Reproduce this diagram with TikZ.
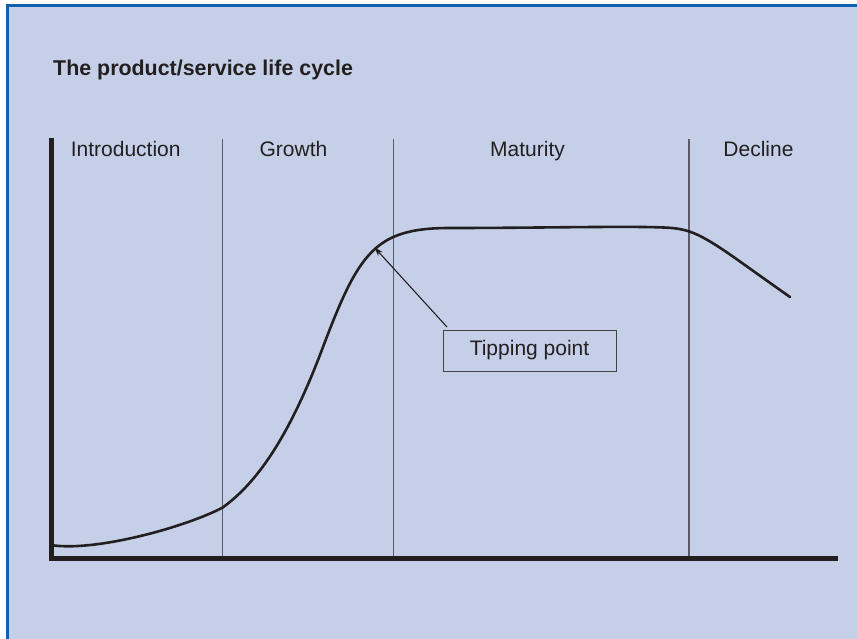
\documentclass[tikz,border=0pt]{standalone}
\usepackage{fontspec}
\setmainfont{Liberation Sans}
\usetikzlibrary{arrows.meta}
\definecolor{bgblue}{HTML}{C5D0E8}
\definecolor{frameblue}{HTML}{1060AE}
\definecolor{ink}{HTML}{231F20}
\definecolor{divgray}{HTML}{5A5A66}
\tikzset{
  lbl/.style={anchor=base, inner sep=0pt, text=ink, font=\fontsize{21}{25}\selectfont},
  axis/.style={line width=4.5pt, ink, line cap=rect},
  divider/.style={line width=1.2pt, divgray},
  curve/.style={line width=2.6pt, ink, line cap=round, line join=round},
  callout/.style={draw=ink!85, line width=1pt, minimum width=173pt, minimum height=41pt, inner sep=0pt, text=ink, font=\fontsize{21}{25}\selectfont},
  pointer/.style={line width=1.1pt, ink, -{Stealth[length=9pt,width=6pt]}}
}
\begin{document}
\begin{tikzpicture}[x=1pt,y=-1pt]
\useasboundingbox (0,0) rectangle (857,639);
\fill[white] (0,0) rectangle (857,639);
\fill[bgblue] (6,6) rectangle (857,639);
\draw[frameblue, line width=3pt] (7.8,639) -- (7.8,6) -- (857,6);
% title
\node[lbl, anchor=base west, font=\bfseries\fontsize{21.4}{25}\selectfont] (title) at (53,76) {The product/service life cycle};
% axes
\coordinate (ytop) at (51.5,140);
\coordinate (origin) at (51.5,558.5);
\coordinate (xend) at (835.5,558.5);
\draw[axis] (ytop) -- (origin) -- (xend);
% dividers
\foreach \n/\x in {d1/222.5, d2/393.5, d3/689} {
  \coordinate (\n t) at (\x,139);
  \coordinate (\n b) at (\x,556);
  \draw[divider] (\n t) -- (\n b);
}
% phase labels
\node[lbl] (intro) at (125.7,157) {Introduction};
\node[lbl] (growth) at (293.5,157) {Growth};
\node[lbl] (maturity) at (527.5,157) {Maturity};
\node[lbl] (decline) at (758.5,157) {Decline};
% curve
\coordinate (c0) at (54,545.5);
\coordinate (c1) at (222.7,507.5);
\coordinate (c2) at (323,347);
\coordinate (c4) at (450,228);
\coordinate (c5) at (672,228);
\coordinate (c6) at (700,236);
\coordinate (c7) at (790,297);
\draw[curve] (c0) .. controls (100,551) and (188,526) .. (c1)
  .. controls (258,482) and (290,435) .. (c2)
  .. controls (359,252) and (375,228) .. (c4)
  .. controls (550,228) and (640,225.5) .. (c5)
  .. controls (682,229) and (690,231) .. (c6)
  .. controls (720,246) and (740,262) .. (c7);
% tipping point
\node[callout] (tip) at (529.5,350.5) {Tipping point};
\coordinate (tiptail) at (447,327);
\coordinate (tiphead) at (374.5,247.5);
\draw[pointer] (tiptail) -- (tiphead);
\end{tikzpicture}
\end{document}
